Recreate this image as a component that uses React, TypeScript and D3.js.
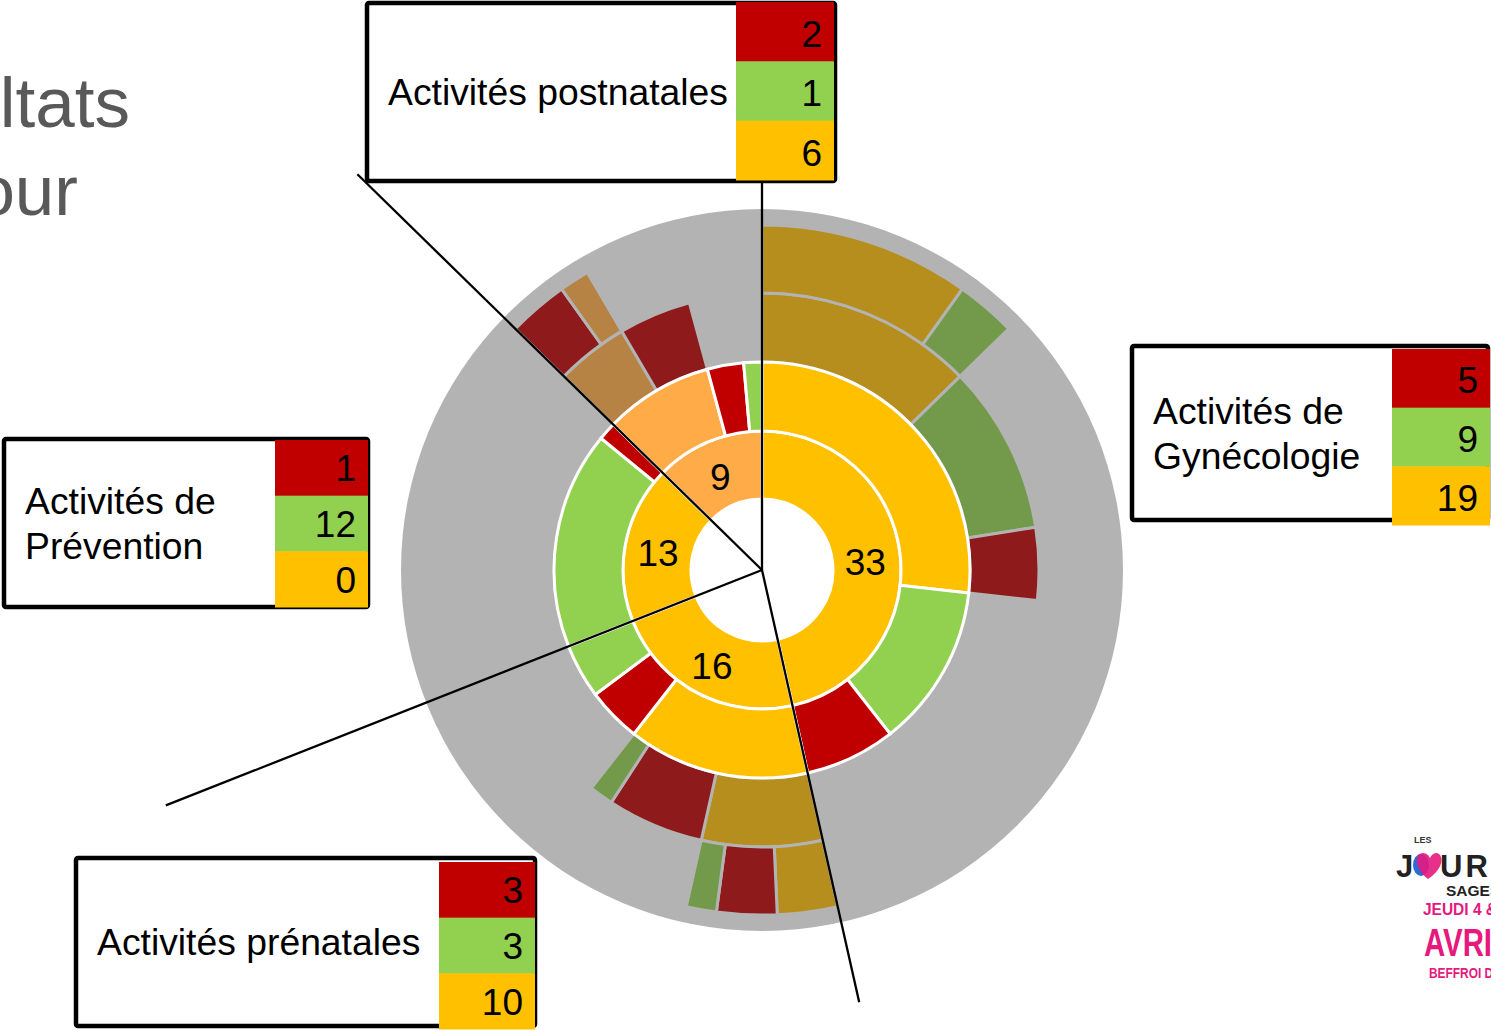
import React from "react";
import * as d3 from "d3";

type Seg = [string, number, Seg[]?];

// ---- DATA ----
const categories = [
  "Activités de Gynécologie",
  "Activités prénatales",
  "Activités de Prévention",
  "Activités postnatales",
];
const categoryColors = ["jaune", "jaune", "jaune", "orange"];

// breakdown of each category (clockwise order): colour key, value, sub-breakdown
const gynecologie: Seg[] = [
  ["jaune", 19, [["or", 9, [["or", 7], ["vertF", 2]]], ["vertF", 7], ["rougeF", 3]]],
  ["vert", 9],
  ["rouge", 5],
];
const prenatales: Seg[] = [
  ["jaune", 10, [["or", 5, [["or", 2], ["rougeF", 2], ["vertF", 1]]], ["rougeF", 4], ["vertF", 1]]],
  ["rouge", 3],
  ["vert", 3],
];
const prevention: Seg[] = [
  ["jaune", 0],
  ["vert", 12],
  ["rouge", 1],
];
const postnatales: Seg[] = [
  ["orange", 6, [["brun", 3, [["rougeF", 2], ["brun", 1]]], ["rougeF", 3]]],
  ["rouge", 2],
  ["vert", 1],
];
const breakdowns = [gynecologie, prenatales, prevention, postnatales];

const legendLabels = [
  ["Activités de", "Gynécologie"],
  ["Activités prénatales"],
  ["Activités de", "Prévention"],
  ["Activités postnatales"],
];
const legendRows = ["rouge", "vert", "jaune"];
const titleLines = ["Résultats", "pour"];

// ---- STYLE / LAYOUT ----
const palette: Record<string, string> = {
  jaune: "#FFC000",
  orange: "#FFAB47",
  vert: "#92D050",
  rouge: "#C00000",
  or: "#B58E1E",
  vertF: "#739A4A",
  rougeF: "#8E1A1B",
  brun: "#B68345",
};
const GREY = "#B3B3B3";
const FONT = "'Liberation Sans', Arial, sans-serif";
const W = 1491;
const H = 1030;
const cx = 762;
const cy = 570;
const radii = [71, 139, 208, 277, 345];
const discR = 361;
const leaderLengths = [390, 443, 641, 566];

// legend boxes (box rect, colour column)
const legendBoxes = [
  { x: 1132, y: 346, w: 356, h: 174, cellX: 1392, cellW: 98, cellY: 349, cellH: 176 },
  { x: 76, y: 858, w: 459, h: 168, cellX: 439, cellW: 96, cellY: 862, cellH: 167 },
  { x: 4, y: 439, w: 364, h: 168, cellX: 275, cellW: 93, cellY: 440, cellH: 167 },
  { x: 367, y: 3, w: 468, h: 178, cellX: 736, cellW: 98, cellY: 2, cellH: 178 },
];

interface TreeNode {
  key: string;
  value?: number;
  children?: TreeNode[];
}

function toNodes(segs: Seg[]): TreeNode[] {
  return segs.map(([key, value, sub]) =>
    sub ? { key, children: toNodes(sub) } : { key, value }
  );
}

export default function App() {
  const rootData: TreeNode = {
    key: "root",
    children: categories.map((c, i) => ({
      key: categoryColors[i],
      children: toNodes(breakdowns[i]),
    })),
  };
  const root = d3
    .hierarchy<TreeNode>(rootData)
    .sum((d) => (d.children ? 0 : d.value || 0));
  d3.partition<TreeNode>().size([2 * Math.PI, 4])(root);
  const nodes = root.descendants().filter((n) => n.depth > 0 && (n.value || 0) > 0) as any[];

  const arc = d3
    .arc<any>()
    .startAngle((d) => d.x0)
    .endAngle((d) => d.x1)
    .innerRadius((d) => radii[d.depth - 1])
    .outerRadius((d) => radii[d.depth]);

  const outer = nodes.filter((n) => n.depth >= 3);
  const inner = nodes.filter((n) => n.depth <= 2);
  const cats = (root.children || []) as any[];

  const legendValue = (i: number, key: string) => {
    const seg = breakdowns[i].find((s) => s[0] === key || (key === "jaune" && s[0] === "orange"));
    return seg ? seg[1] : 0;
  };

  return (
    <div style={{ position: "absolute", left: 0, top: 0 }}>
      <svg width={W} height={H} style={{ display: "block", background: "#fff" }}>
        {/* title (partially cut off) */}
        {titleLines.map((t, i) => (
          <text
            key={t}
            x={i === 0 ? 130 : 78}
            y={i === 0 ? 127 : 215}
            textAnchor="end"
            fontFamily={FONT}
            fontSize={71}
            fill="#595959"
          >
            {t}
          </text>
        ))}

        <g transform={`translate(${cx},${cy})`}>
          <circle r={discR} fill={GREY} />
          <circle r={radii[0]} fill="#fff" />
          {outer.map((n, i) => (
            <path key={"o" + i} d={arc(n) || ""} fill={palette[n.data.key]} stroke={GREY} strokeWidth={3} />
          ))}
          {inner.map((n, i) => (
            <path key={"i" + i} d={arc(n) || ""} fill={palette[n.data.key]} stroke="#fff" strokeWidth={3} />
          ))}
          {cats.map((n, i) => {
            const [lx, ly] = arc.centroid(n);
            return (
              <text
                key={"l" + i}
                x={lx - 1}
                y={ly + 4}
                textAnchor="middle"
                dominantBaseline="central"
                fontFamily={FONT}
                fontSize={37}
                fill="#000"
              >
                {n.value}
              </text>
            );
          })}
          {cats.map((n, i) => (
            <line
              key={"ld" + i}
              x1={0}
              y1={0}
              x2={leaderLengths[i] * Math.sin(n.x0)}
              y2={-leaderLengths[i] * Math.cos(n.x0)}
              stroke="#000"
              strokeWidth={2.3}
            />
          ))}
        </g>

        {/* legend boxes */}
        {legendBoxes.map((b, i) => {
          const lines = legendLabels[i];
          const mid = b.y + b.h / 2 + 13;
          const rowH = b.cellH / 3;
          return (
            <g key={"b" + i}>
              <rect x={b.x} y={b.y} width={b.w} height={b.h} rx={2} fill="#fff" stroke="#000" strokeWidth={4.5} />
              {lines.map((t, j) => (
                <text
                  key={j}
                  x={b.x + 21}
                  y={mid + (j - (lines.length - 1) / 2) * 45}
                  fontFamily={FONT}
                  fontSize={37.3}
                  fill="#000"
                >
                  {t}
                </text>
              ))}
              {legendRows.map((k, j) => (
                <g key={k}>
                  <rect x={b.cellX} y={b.cellY + j * rowH} width={b.cellW} height={rowH + 0.5} fill={palette[k]} />
                  <text
                    x={b.cellX + b.cellW - 12}
                    y={b.cellY + (j + 1) * rowH - 14.5}
                    textAnchor="end"
                    fontFamily={FONT}
                    fontSize={37}
                    fill="#000"
                  >
                    {legendValue(i, k)}
                  </text>
                </g>
              ))}
            </g>
          );
        })}

        {/* logo (cut by the right edge) */}
        <g fontFamily={FONT}>
          <text x={1414} y={843} fontSize={9} fontWeight="bold" fill="#333">LES</text>
          <text x={1396} y={877} fontSize={31} fontWeight="bold" fill="#222">J</text>
          <ellipse cx={1421} cy={865} rx={8} ry={11} fill="#2A6BD6" />
          <path
            d="M1428,879 C1414,868 1414,853 1423,853 C1427,853 1429,856 1430,858 C1432,854 1436,851 1440,855 C1444,861 1440,871 1428,879 Z"
            fill="#E6197E"
            opacity={0.9}
          />
          <text x={1440} y={877} fontSize={31} fontWeight="bold" fill="#222" letterSpacing={3}>URNÉES</text>
          <text x={1446} y={896} fontSize={15.5} fontWeight="bold" fill="#222">SAGES</text>
          <text x={1423} y={915} fontSize={17} fontWeight="bold" fill="#E6197E" textLength={74} lengthAdjust="spacingAndGlyphs">JEUDI 4 &amp;</text>
          <text x={1424} y={956} fontSize={38} fontWeight="bold" fill="#E6197E" textLength={86} lengthAdjust="spacingAndGlyphs">AVRIL</text>
          <text x={1429} y={978} fontSize={14} fontWeight="bold" fill="#E6197E" textLength={72} lengthAdjust="spacingAndGlyphs">BEFFROI DE</text>
        </g>
      </svg>
    </div>
  );
}
